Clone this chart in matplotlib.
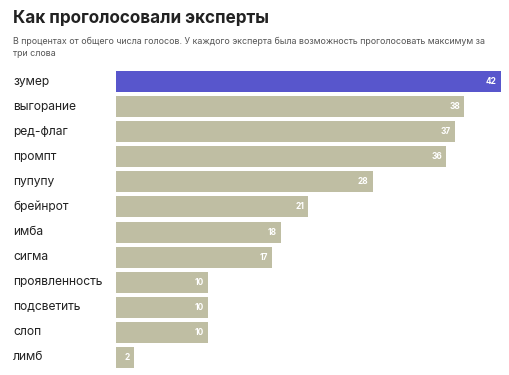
import matplotlib.pyplot as plt

words = ["зумер", "выгорание", "ред-флаг", "промпт", "пупупу", "брейнрот",
         "имба", "сигма", "проявленность", "подсветить", "слоп", "лимб"]
votes = [42, 38, 37, 36, 28, 21, 18, 17, 10, 10, 10, 2]

plt.rcParams['font.family'] = ['Inter', 'DejaVu Sans']

fig = plt.figure(figsize=(5.1, 3.75), dpi=100)
fig.patch.set_facecolor("white")

# title and subtitle
fig.text(13 / 510, 1 - 19 / 375, "Как проголосовали эксперты", fontsize=12.3,
         fontweight="bold", color="#222222", va="center", ha="left")
fig.text(13 / 510, 1 - 41 / 375,
         "В процентах от общего числа голосов. У каждого эксперта была возможность проголосовать максимум за",
         fontsize=6.4, color="#555555", va="center", ha="left")
fig.text(13 / 510, 1 - 54 / 375, "три слова",
         fontsize=6.4, color="#555555", va="center", ha="left")

ax = fig.add_axes([116 / 510, 1 - 368 / 375, (501 - 116) / 510, 297 / 375])
h = 0.84
colors = ["#5856cc"] + ["#bfbea3"] * (len(words) - 1)
ypos = list(range(len(words)))
ax.barh(ypos, votes, height=h, color=colors)
ax.set_xlim(0, 42)
ax.set_ylim(len(words) - 1 + h / 2, -h / 2)
ax.axis("off")

for y, v, w in zip(ypos, votes, words):
    ax.text(v - 0.45, y, str(v), color="white", fontsize=6, fontweight="bold",
            ha="right", va="center")
    ax.annotate(w, xy=(0, y), xycoords=("axes fraction", "data"),
                xytext=(13 - 116, 0), textcoords="offset pixels",
                fontsize=8.7, color="#222222", ha="left", va="center")

fig.savefig("out.png", dpi=100)
